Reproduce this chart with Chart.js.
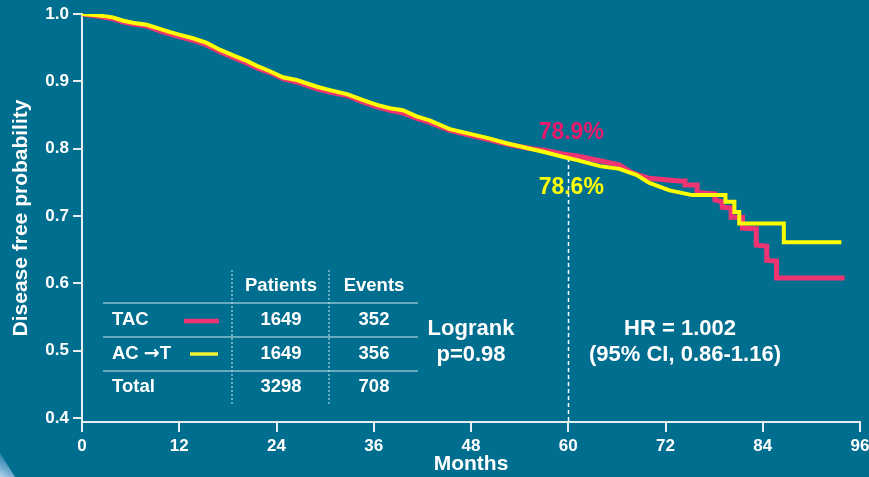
<!DOCTYPE html>
<html><head><meta charset="utf-8">
<script src="https://cdn.jsdelivr.net/npm/chart.js@4"></script>
<style>html,body{margin:0;padding:0;background:#006e8f;overflow:hidden}canvas{display:block}</style>
</head><body>
<canvas id="c" width="869" height="477"></canvas>
<script>
// ---- data (curve vertices; repeated months are the vertical drops) ----
const acMonths = [0,1.9,3.8,5.1,6.3,8.0,9.6,10.9,12.1,13.7,15.4,17.0,18.6,20.4,21.6,23.2,24.8,26.5,29.0,30.6,32.7,34.7,36.4,38.0,39.6,41.3,42.9,45.4,47.5,50.0,52.4,54.9,57.4,59.3,61.1,63.9,66.3,68.4,70.0,72.5,75.3,79.4,79.4,80.5,80.5,81.1,81.1,86.6,86.6,93.7];
const acSurv   = [1.000,0.998,0.995,0.990,0.987,0.984,0.978,0.973,0.969,0.964,0.957,0.947,0.939,0.930,0.923,0.915,0.906,0.902,0.892,0.887,0.881,0.872,0.865,0.860,0.857,0.848,0.842,0.829,0.823,0.816,0.808,0.801,0.794,0.788,0.783,0.774,0.770,0.761,0.749,0.738,0.731,0.731,0.721,0.721,0.706,0.706,0.689,0.689,0.661,0.661];
const tacMonths = [0,1.9,3.8,5.1,6.3,8.0,9.6,10.9,12.1,13.7,15.4,17.0,18.6,20.4,21.6,23.2,24.8,26.5,29.0,30.6,32.7,34.7,36.4,38.0,39.6,41.3,42.9,45.4,47.5,50.0,52.4,54.9,57.4,59.3,61.1,63.9,66.3,67.9,70.0,73.7,74.4,74.4,75.9,75.9,78.1,78.1,79.0,79.0,80.1,80.1,81.5,81.5,83.2,83.2,84.5,84.5,85.7,85.7,94.1];
const tacSurv   = [1.000,0.997,0.993,0.988,0.985,0.982,0.975,0.970,0.966,0.961,0.954,0.944,0.936,0.927,0.920,0.913,0.904,0.899,0.889,0.884,0.879,0.869,0.862,0.857,0.853,0.845,0.839,0.827,0.821,0.814,0.807,0.801,0.797,0.792,0.789,0.782,0.776,0.764,0.756,0.752,0.752,0.746,0.746,0.735,0.733,0.724,0.721,0.713,0.712,0.698,0.698,0.682,0.681,0.657,0.655,0.634,0.633,0.608,0.608];
const xTicks = [0,12,24,36,48,60,72,84,96];
const yTicks = [0.4,0.5,0.6,0.7,0.8,0.9,1.0];
const tableHeader = ['Patients','Events'];
const tableRows = ['TAC','AC \u2192T','Total'];
const patients = [1649,1649,3298];
const events = [352,356,708];
const landmarkMonth = 60;
const landmarkTAC = 0.789, landmarkAC = 0.786;
const landmarkTACLabel = '78.9%', landmarkACLabel = '78.6%';
const logrankLines = ['Logrank','p=0.98'];
const hrLines = ['HR = 1.002','(95% CI, 0.86-1.16)'];

// ---- styles ----
const F = '"Liberation Sans", Arial, Helvetica, sans-serif';
const BG = '#006e8f';
const RED = '#ef3473';
const YEL = '#ffff00';
const AXIS = '#e4eef3';

const toPts = (xs, ys) => xs.map((x, i) => ({x, y: ys[i]}));

function drawRowLabel(ctx, text, x, y) {
  const i = text.indexOf('\u2192');
  ctx.textAlign = 'left';
  if (i < 0) { ctx.fillText(text, x, y); return; }
  const a = text.slice(0, i), b = text.slice(i + 1);
  ctx.fillText(a, x, y);
  let cx = x + ctx.measureText(a).width;
  const keep = ctx.font;
  ctx.font = 'bold 19px "DejaVu Sans", sans-serif';
  ctx.fillText('\u2192', cx, y);
  cx += ctx.measureText('\u2192').width;
  ctx.font = keep;
  ctx.fillText(b, cx, y);
}

const deco = {
  id: 'deco',
  beforeDraw(chart) {
    const ctx = chart.ctx;
    ctx.save();
    ctx.fillStyle = BG;
    ctx.fillRect(0, 0, chart.width, chart.height);
    const g = ctx.createLinearGradient(0, 477, 12, 458);
    g.addColorStop(0, '#b5d4ee');
    g.addColorStop(1, 'rgba(110,165,215,0.35)');
    ctx.beginPath(); ctx.moveTo(0, 453); ctx.lineTo(15, 477); ctx.lineTo(0, 477); ctx.closePath();
    ctx.fillStyle = g; ctx.fill();
    ctx.restore();
  },
  beforeDatasetsDraw(chart) {
    const {ctx, scales: {x, y}, chartArea} = chart;
    ctx.save();
    ctx.strokeStyle = '#ffffff';
    ctx.lineWidth = 1.5;
    ctx.setLineDash([4, 3]);
    const px = Math.round(x.getPixelForValue(landmarkMonth)) + 0.5;
    ctx.beginPath();
    ctx.moveTo(px, y.getPixelForValue(landmarkAC));
    ctx.lineTo(px, chartArea.bottom);
    ctx.stroke();
    ctx.restore();
  },
  afterDatasetsDraw(chart) {
    const {ctx, scales: {x, y}} = chart;
    ctx.save();
    ctx.textBaseline = 'middle';
    ctx.textAlign = 'center';
    // landmark labels
    const lx = x.getPixelForValue(landmarkMonth) + 3;
    ctx.font = 'bold 23px ' + F;
    ctx.fillStyle = '#ec1a6b';
    ctx.fillText(landmarkTACLabel, lx, y.getPixelForValue(landmarkTAC) - 23);
    ctx.fillStyle = YEL;
    ctx.fillText(landmarkACLabel, lx, y.getPixelForValue(landmarkAC) + 30);
    // logrank + HR
    ctx.fillStyle = '#ffffff';
    ctx.font = 'bold 22px ' + F;
    ctx.fillText(logrankLines[0], 471, 329);
    ctx.fillText(logrankLines[1], 471, 355);
    ctx.fillText(hrLines[0], 680, 329);
    ctx.fillText(hrLines[1], 685, 355);
    // table grid
    ctx.strokeStyle = 'rgba(200,225,235,0.7)';
    ctx.lineWidth = 1.5;
    [303, 337, 371].forEach(yy => { ctx.beginPath(); ctx.moveTo(103, yy); ctx.lineTo(418, yy); ctx.stroke(); });
    ctx.setLineDash([2, 2]);
    [232, 329].forEach(xx => { ctx.beginPath(); ctx.moveTo(xx, 270); ctx.lineTo(xx, 404); ctx.stroke(); });
    ctx.setLineDash([]);
    // table text
    ctx.font = 'bold 18.5px ' + F;
    ctx.fillStyle = '#ffffff';
    ctx.fillText(tableHeader[0], 281, 286);
    ctx.fillText(tableHeader[1], 374, 286);
    const rowY = [320, 354, 387];
    tableRows.forEach((r, i) => {
      drawRowLabel(ctx, r, 112, rowY[i]);
      ctx.textAlign = 'center';
      ctx.fillText(String(patients[i]), 281, rowY[i]);
      ctx.fillText(String(events[i]), 374, rowY[i]);
    });
    // legend swatches
    ctx.lineWidth = 4.5; ctx.strokeStyle = RED;
    ctx.beginPath(); ctx.moveTo(184, 321); ctx.lineTo(219, 321); ctx.stroke();
    ctx.lineWidth = 3.5; ctx.strokeStyle = '#f2f23a';
    ctx.beginPath(); ctx.moveTo(190, 354); ctx.lineTo(218, 354); ctx.stroke();
    ctx.restore();
  }
};

new Chart(document.getElementById('c'), {
  type: 'line',
  data: {
    datasets: [
      { label: 'AC \u2192T', data: toPts(acMonths, acSurv), borderColor: YEL, borderWidth: 4, tension: 0, pointRadius: 0, fill: false, order: 0 },
      { label: 'TAC', data: toPts(tacMonths, tacSurv), borderColor: RED, borderWidth: 5, tension: 0, pointRadius: 0, fill: false, order: 1 }
    ]
  },
  options: {
    responsive: false,
    animation: false,
    devicePixelRatio: 1,
    layout: { padding: { top: 14, right: 9, bottom: 0, left: 0 } },
    plugins: { legend: { display: false }, tooltip: { enabled: false } },
    scales: {
      x: {
        type: 'linear', min: 0, max: 96,
        afterBuildTicks: s => { s.ticks = xTicks.map(v => ({value: v})); },
        afterFit: s => { s.height = 55; s.paddingLeft = 0; s.paddingRight = 0; },
        ticks: { color: '#ffffff', font: { family: F, size: 17, weight: 'bold' }, padding: 4, maxRotation: 0, autoSkip: false },
        grid: { display: true, drawOnChartArea: false, drawTicks: true, tickLength: 10, color: AXIS, lineWidth: 2 },
        border: { display: true, color: AXIS, width: 2 },
        title: { display: true, text: 'Months', color: '#ffffff', font: { family: F, size: 21, weight: 'bold' }, padding: { top: 0, bottom: 0 } }
      },
      y: {
        type: 'linear', min: 0.394, max: 1.0,
        afterBuildTicks: s => { s.ticks = yTicks.map(v => ({value: v})); },
        afterFit: s => { s.width = 82; s.paddingTop = 0; s.paddingBottom = 0; },
        ticks: { color: '#ffffff', font: { family: F, size: 17, weight: 'bold' }, padding: 4, callback: v => Number(v).toFixed(1) },
        grid: { display: true, drawOnChartArea: false, drawTicks: true, tickLength: 9, color: AXIS, lineWidth: 2 },
        border: { display: true, color: AXIS, width: 2 },
        title: { display: true, text: 'Disease free probability', color: '#ffffff', font: { family: F, size: 21, weight: 'bold' }, padding: { top: 9, bottom: 0 } }
      }
    }
  },
  plugins: [deco]
});
</script>
</body></html>
